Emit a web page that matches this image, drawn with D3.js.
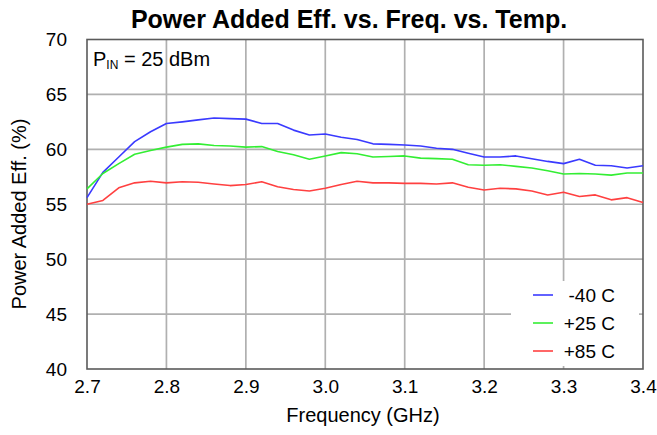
<!DOCTYPE html>
<html>
<head>
<meta charset="utf-8">
<script src="https://cdn.jsdelivr.net/npm/d3@7"></script>
<style>
html,body{margin:0;padding:0;background:#fff;}
svg{display:block;font-family:"Liberation Sans",Arial,sans-serif;}
</style>
</head>
<body>
<svg id="chart" width="657" height="435"></svg>
<script>
const title = "Power Added Eff. vs. Freq. vs. Temp.";
const xLabel = "Frequency (GHz)";
const yLabel = "Power Added Eff. (%)";
const xTicks = [2.7, 2.8, 2.9, 3.0, 3.1, 3.2, 3.3, 3.4];
const yTicks = [40, 45, 50, 55, 60, 65, 70];
const freq = [2.70,2.72,2.74,2.76,2.78,2.80,2.82,2.84,2.86,2.88,2.90,2.92,2.94,2.96,2.98,3.00,3.02,3.04,3.06,3.08,3.10,3.12,3.14,3.16,3.18,3.20,3.22,3.24,3.26,3.28,3.30,3.32,3.34,3.36,3.38,3.40];
const seriesNames = ["-40 C", "+25 C", "+85 C"];
const pae_m40 = [55.6,57.9,59.3,60.7,61.6,62.35,62.5,62.68,62.85,62.8,62.75,62.35,62.35,61.75,61.3,61.4,61.1,60.9,60.5,60.45,60.4,60.3,60.1,60.0,59.65,59.3,59.3,59.4,59.15,58.9,58.7,59.1,58.55,58.5,58.3,58.5];
const pae_p25 = [56.4,57.8,58.7,59.55,59.9,60.2,60.45,60.5,60.35,60.3,60.2,60.25,59.8,59.5,59.1,59.4,59.7,59.6,59.3,59.35,59.4,59.2,59.15,59.1,58.6,58.55,58.6,58.45,58.3,58.05,57.75,57.8,57.75,57.65,57.85,57.85];
const pae_p85 = [55.0,55.35,56.5,56.95,57.1,56.95,57.05,57.0,56.85,56.7,56.8,57.05,56.6,56.35,56.2,56.45,56.8,57.1,56.95,56.95,56.9,56.9,56.85,56.95,56.55,56.3,56.45,56.4,56.2,55.85,56.1,55.7,55.85,55.4,55.6,55.15];
const seriesColors = ["#3a3aff", "#33ee33", "#ff4040"];

const svg = d3.select("#chart");
const L = 87, R = 643, T = 39.5, B = 369;
const x = d3.scaleLinear().domain([2.7, 3.4]).range([L, R]);
const y = d3.scaleLinear().domain([40, 70]).range([B, T]);

// gridlines
const grid = svg.append("g");
grid.selectAll(".vg").data(xTicks.slice(1, -1)).enter().append("line")
  .attr("x1", d => x(d)).attr("x2", d => x(d)).attr("y1", T).attr("y2", B)
  .attr("stroke", "#b0b0b0").attr("stroke-width", 1.7);
grid.selectAll(".hg").data(yTicks.slice(1, -1)).enter().append("line")
  .attr("x1", L).attr("x2", R).attr("y1", d => y(d)).attr("y2", d => y(d))
  .attr("stroke", "#b0b0b0").attr("stroke-width", 1.7);

// axes (labels only)
const xAxis = svg.append("g").attr("transform", `translate(0,${B})`)
  .call(d3.axisBottom(x).tickValues(xTicks).tickFormat(d3.format(".1f")).tickSize(0).tickPadding(11));
const yAxis = svg.append("g").attr("transform", `translate(${L},0)`)
  .call(d3.axisLeft(y).tickValues(yTicks).tickFormat(d3.format("d")).tickSize(0).tickPadding(20));
[xAxis, yAxis].forEach(a => {
  a.select(".domain").remove();
  a.selectAll("text").attr("font-size", 19).attr("fill", "#000")
    .attr("font-family", "'Liberation Sans', Arial, sans-serif");
});

// plot border
svg.append("rect").attr("x", L).attr("y", T).attr("width", R - L).attr("height", B - T)
  .attr("fill", "none").attr("stroke", "#5a5a5a").attr("stroke-width", 1.6);

// lines
const allSeries = [pae_m40, pae_p25, pae_p85];
const line = d3.line().x((d, i) => x(freq[i])).y(d => y(d));
svg.append("g").selectAll("path").data(allSeries).enter().append("path")
  .attr("d", d => line(d)).attr("fill", "none")
  .attr("stroke", (d, i) => seriesColors[i]).attr("stroke-width", 1.6)
  .attr("stroke-linejoin", "round");

// legend
const lg = svg.append("g");
lg.append("rect").attr("x", 511).attr("y", 281).attr("width", 128).attr("height", 85).attr("fill", "#fff");
seriesNames.forEach((n, i) => {
  const yy = 295 + i * 28;
  lg.append("line").attr("x1", 533).attr("x2", 553).attr("y1", yy).attr("y2", yy)
    .attr("stroke", seriesColors[i]).attr("stroke-width", 1.6);
  lg.append("text").attr("x", 615).attr("y", yy + 7).attr("text-anchor", "end")
    .attr("font-size", 19).text(n);
});

// PIN annotation
const ann = svg.append("text").attr("x", 93).attr("y", 66).attr("font-size", 20);
ann.append("tspan").text("P");
ann.append("tspan").attr("font-size", 12).attr("dy", 3).text("IN");
ann.append("tspan").attr("dy", -3).text(" = 25 dBm");

// titles
svg.append("text").attr("x", 349).attr("y", 28).attr("text-anchor", "middle")
  .attr("font-size", 25).attr("font-weight", "bold").text(title);
svg.append("text").attr("x", 363).attr("y", 422).attr("text-anchor", "middle")
  .attr("font-size", 20).text(xLabel);
svg.append("text").attr("transform", "translate(26,214) rotate(-90)").attr("text-anchor", "middle")
  .attr("font-size", 20).text(yLabel);
</script>
</body>
</html>
